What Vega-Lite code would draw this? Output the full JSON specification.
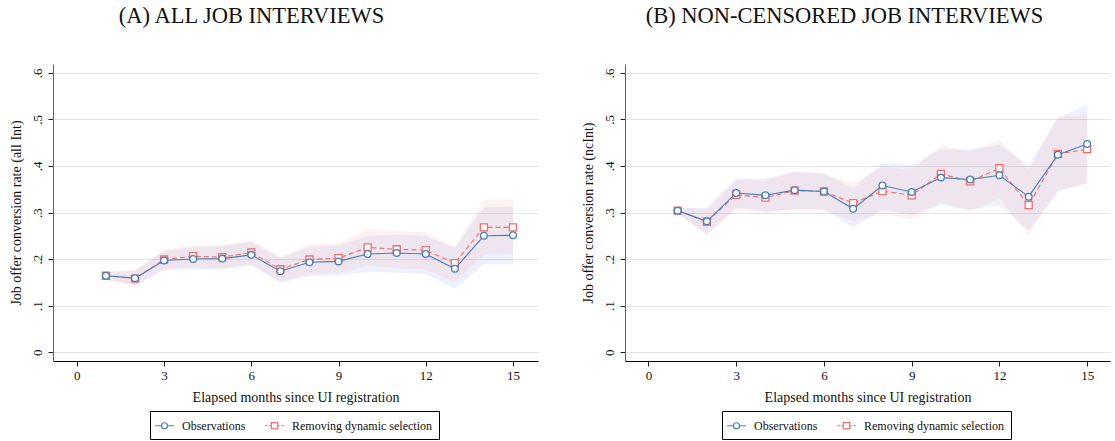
{
 "$schema": "https://vega.github.io/schema/vega-lite/v6.json",
 "background": "white",
 "padding": {"left": 8, "top": 4, "right": 5, "bottom": 0},
 "config": {
  "view": {"stroke": null},
  "font": "Liberation Serif",
  "axis": {"labelFont": "Liberation Serif", "titleFont": "Liberation Serif", "labelFontSize": 13, "titleFontSize": 14, "titleFontWeight": "normal", "labelColor": "#111", "titleColor": "#111", "tickColor": "#222", "domainColor": "#222", "tickSize": 5}
 },
 "datasets": {
  "a": [
   {"m":1,"s":"Observations","v":0.164,"lo":0.156,"hi":0.172},
   {"m":2,"s":"Observations","v":0.159,"lo":0.144,"hi":0.175},
   {"m":3,"s":"Observations","v":0.197,"lo":0.177,"hi":0.218},
   {"m":4,"s":"Observations","v":0.200,"lo":0.178,"hi":0.225},
   {"m":5,"s":"Observations","v":0.201,"lo":0.178,"hi":0.228},
   {"m":6,"s":"Observations","v":0.209,"lo":0.186,"hi":0.236},
   {"m":7,"s":"Observations","v":0.174,"lo":0.149,"hi":0.202},
   {"m":8,"s":"Observations","v":0.193,"lo":0.163,"hi":0.226},
   {"m":9,"s":"Observations","v":0.195,"lo":0.165,"hi":0.229},
   {"m":10,"s":"Observations","v":0.211,"lo":0.172,"hi":0.250},
   {"m":11,"s":"Observations","v":0.213,"lo":0.171,"hi":0.253},
   {"m":12,"s":"Observations","v":0.211,"lo":0.168,"hi":0.250},
   {"m":13,"s":"Observations","v":0.179,"lo":0.136,"hi":0.224},
   {"m":14,"s":"Observations","v":0.250,"lo":0.189,"hi":0.311},
   {"m":15,"s":"Observations","v":0.251,"lo":0.189,"hi":0.313},
   {"m":1,"s":"Removing dynamic selection","v":0.164,"lo":0.155,"hi":0.173},
   {"m":2,"s":"Removing dynamic selection","v":0.158,"lo":0.142,"hi":0.176},
   {"m":3,"s":"Removing dynamic selection","v":0.199,"lo":0.178,"hi":0.220},
   {"m":4,"s":"Removing dynamic selection","v":0.206,"lo":0.182,"hi":0.230},
   {"m":5,"s":"Removing dynamic selection","v":0.204,"lo":0.180,"hi":0.230},
   {"m":6,"s":"Removing dynamic selection","v":0.214,"lo":0.189,"hi":0.240},
   {"m":7,"s":"Removing dynamic selection","v":0.178,"lo":0.152,"hi":0.206},
   {"m":8,"s":"Removing dynamic selection","v":0.199,"lo":0.168,"hi":0.231},
   {"m":9,"s":"Removing dynamic selection","v":0.202,"lo":0.170,"hi":0.234},
   {"m":10,"s":"Removing dynamic selection","v":0.225,"lo":0.186,"hi":0.264},
   {"m":11,"s":"Removing dynamic selection","v":0.221,"lo":0.180,"hi":0.261},
   {"m":12,"s":"Removing dynamic selection","v":0.219,"lo":0.178,"hi":0.257},
   {"m":13,"s":"Removing dynamic selection","v":0.191,"lo":0.150,"hi":0.227},
   {"m":14,"s":"Removing dynamic selection","v":0.268,"lo":0.210,"hi":0.327},
   {"m":15,"s":"Removing dynamic selection","v":0.268,"lo":0.212,"hi":0.329}
  ],
  "b": [
   {"m":1,"s":"Observations","v":0.304,"lo":0.298,"hi":0.310},
   {"m":2,"s":"Observations","v":0.281,"lo":0.254,"hi":0.309},
   {"m":3,"s":"Observations","v":0.342,"lo":0.311,"hi":0.373},
   {"m":4,"s":"Observations","v":0.337,"lo":0.302,"hi":0.373},
   {"m":5,"s":"Observations","v":0.348,"lo":0.307,"hi":0.388},
   {"m":6,"s":"Observations","v":0.345,"lo":0.306,"hi":0.383},
   {"m":7,"s":"Observations","v":0.308,"lo":0.268,"hi":0.352},
   {"m":8,"s":"Observations","v":0.358,"lo":0.306,"hi":0.406},
   {"m":9,"s":"Observations","v":0.344,"lo":0.295,"hi":0.402},
   {"m":10,"s":"Observations","v":0.375,"lo":0.316,"hi":0.436},
   {"m":11,"s":"Observations","v":0.371,"lo":0.306,"hi":0.434},
   {"m":12,"s":"Observations","v":0.380,"lo":0.316,"hi":0.445},
   {"m":13,"s":"Observations","v":0.334,"lo":0.262,"hi":0.402},
   {"m":14,"s":"Observations","v":0.424,"lo":0.345,"hi":0.503},
   {"m":15,"s":"Observations","v":0.447,"lo":0.364,"hi":0.531},
   {"m":1,"s":"Removing dynamic selection","v":0.304,"lo":0.298,"hi":0.311},
   {"m":2,"s":"Removing dynamic selection","v":0.280,"lo":0.252,"hi":0.308},
   {"m":3,"s":"Removing dynamic selection","v":0.338,"lo":0.306,"hi":0.370},
   {"m":4,"s":"Removing dynamic selection","v":0.332,"lo":0.298,"hi":0.368},
   {"m":5,"s":"Removing dynamic selection","v":0.347,"lo":0.306,"hi":0.388},
   {"m":6,"s":"Removing dynamic selection","v":0.345,"lo":0.306,"hi":0.384},
   {"m":7,"s":"Removing dynamic selection","v":0.320,"lo":0.280,"hi":0.362},
   {"m":8,"s":"Removing dynamic selection","v":0.346,"lo":0.296,"hi":0.398},
   {"m":9,"s":"Removing dynamic selection","v":0.337,"lo":0.286,"hi":0.392},
   {"m":10,"s":"Removing dynamic selection","v":0.383,"lo":0.322,"hi":0.444},
   {"m":11,"s":"Removing dynamic selection","v":0.367,"lo":0.302,"hi":0.432},
   {"m":12,"s":"Removing dynamic selection","v":0.395,"lo":0.330,"hi":0.456},
   {"m":13,"s":"Removing dynamic selection","v":0.316,"lo":0.250,"hi":0.392},
   {"m":14,"s":"Removing dynamic selection","v":0.426,"lo":0.348,"hi":0.505},
   {"m":15,"s":"Removing dynamic selection","v":0.436,"lo":0.362,"hi":0.509}
  ]
 },
 "spacing": 42,
 "resolve": {"scale": {"x": "independent", "y": "independent", "color": "independent", "shape": "independent"}, "legend": {"color": "independent", "shape": "independent"}},
 "hconcat": [
  {
   "width": 485, "height": 297,
   "title": {"text": "(A) ALL JOB INTERVIEWS", "font": "Liberation Serif", "fontSize": 22.5, "fontWeight": "normal", "color": "#111", "anchor": "middle", "frame": "group", "offset": 37, "dx": -44},
   "data": {"name": "a"},
   "encoding": {
    "x": {"field": "m", "type": "quantitative", "scale": {"domain": [-0.82, 15.86], "nice": false, "zero": false}, "axis": {"values": [0,3,6,9,12,15], "grid": false, "title": "Elapsed months since UI registration", "labelPadding": 3, "titlePadding": 8, "domainColor": "#000"}}
   },
   "layer": [
    {"transform": [{"filter": "datum.s == 'Observations'"}], "mark": {"type": "area", "color": "#7b8fe0", "opacity": 0.13},
     "encoding": {"y": {"field": "lo", "type": "quantitative", "title": "Job offer conversion rate (all Int)", "scale": {"domain": [-0.019, 0.619], "nice": false, "zero": false}, "axis": {"values": [0,0.1,0.2,0.3,0.4,0.5,0.6], "labelExpr": "datum.value == 0 ? '0' : replace(format(datum.value, '.1f'), '0.', '.')", "labelAngle": -90, "labelPadding": 4, "titlePadding": 8, "grid": true, "gridColor": "#e3e3e3", "domainColor": "#666"}}, "y2": {"field": "hi"}}},
    {"transform": [{"filter": "datum.s == 'Removing dynamic selection'"}], "mark": {"type": "area", "color": "#f29a9a", "opacity": 0.13},
     "encoding": {"y": {"field": "lo", "type": "quantitative", "title": "Job offer conversion rate (all Int)"}, "y2": {"field": "hi"}}},
    {"transform": [{"filter": "datum.s == 'Removing dynamic selection'"}], "mark": {"type": "line", "color": "#f26d6d", "strokeWidth": 1.1, "strokeDash": [5, 3]},
     "encoding": {"y": {"field": "v", "type": "quantitative", "title": "Job offer conversion rate (all Int)"}}},
    {"transform": [{"filter": "datum.s == 'Removing dynamic selection'"}], "mark": {"type": "point", "shape": "square", "filled": false, "color": "#f26d6d", "size": 50, "strokeWidth": 1.3, "fill": "white", "fillOpacity": 1, "opacity": 1},
     "encoding": {"y": {"field": "v", "type": "quantitative", "title": "Job offer conversion rate (all Int)"}}},
    {"transform": [{"filter": "datum.s == 'Observations'"}], "mark": {"type": "line", "color": "#4a7ebb", "strokeWidth": 1.1},
     "encoding": {"y": {"field": "v", "type": "quantitative", "title": "Job offer conversion rate (all Int)"}}},
    {"transform": [{"filter": "datum.s == 'Observations'"}], "mark": {"type": "point", "shape": "circle", "filled": false, "color": "#4a7ebb", "size": 45, "strokeWidth": 1.3, "fill": "white", "fillOpacity": 1, "opacity": 1},
     "encoding": {"y": {"field": "v", "type": "quantitative", "title": "Job offer conversion rate (all Int)"}}},
    {"mark": {"type": "point", "filled": false, "opacity": 0, "size": 180},
     "encoding": {"y": {"field": "v", "type": "quantitative", "title": "Job offer conversion rate (all Int)"},
      "shape": {"field": "s", "type": "nominal", "scale": {"domain": ["Observations", "Removing dynamic selection"], "range": ["M-1.4,0H-0.45M0.45,0H1.4M0.45,0A0.45,0.45,0,1,1,-0.45,0A0.45,0.45,0,1,1,0.45,0", "M-1.4,0H-1.0M-0.8,0H-0.5M0.5,0H0.8M1.0,0H1.4M-0.48,-0.48H0.48V0.48H-0.48Z"]},
       "legend": {"title": null, "orient": "none", "legendX": 97, "legendY": 347, "direction": "horizontal", "strokeColor": "#000", "fillColor": "white", "padding": 7, "labelFont": "Liberation Serif", "labelFontSize": 12, "labelColor": "#111", "symbolSize": 180, "symbolStrokeWidth": 1.2, "symbolOpacity": 1, "columnPadding": 16, "labelOffset": 10}},
      "color": {"field": "s", "type": "nominal", "scale": {"domain": ["Observations", "Removing dynamic selection"], "range": ["#4a7ebb", "#f26d6d"]},
       "legend": {"title": null, "orient": "none", "legendX": 97, "legendY": 347, "direction": "horizontal", "strokeColor": "#000", "fillColor": "white", "padding": 7, "labelFont": "Liberation Serif", "labelFontSize": 12, "labelColor": "#111", "symbolSize": 180, "symbolStrokeWidth": 1.2, "symbolOpacity": 1, "columnPadding": 16, "labelOffset": 10}}}}
   ]
  },
  {
   "width": 485, "height": 297,
   "title": {"text": "(B) NON-CENSORED JOB INTERVIEWS", "font": "Liberation Serif", "fontSize": 22.5, "fontWeight": "normal", "color": "#111", "anchor": "middle", "frame": "group", "offset": 37, "dx": -23},
   "data": {"name": "b"},
   "encoding": {
    "x": {"field": "m", "type": "quantitative", "scale": {"domain": [-0.8, 15.78], "nice": false, "zero": false}, "axis": {"values": [0,3,6,9,12,15], "grid": false, "title": "Elapsed months since UI registration", "labelPadding": 3, "titlePadding": 8, "domainColor": "#000"}}
   },
   "layer": [
    {"transform": [{"filter": "datum.s == 'Observations'"}], "mark": {"type": "area", "color": "#7b8fe0", "opacity": 0.13},
     "encoding": {"y": {"field": "lo", "type": "quantitative", "title": "Job offer conversion rate (ncInt)", "scale": {"domain": [-0.019, 0.619], "nice": false, "zero": false}, "axis": {"values": [0,0.1,0.2,0.3,0.4,0.5,0.6], "labelExpr": "datum.value == 0 ? '0' : replace(format(datum.value, '.1f'), '0.', '.')", "labelAngle": -90, "labelPadding": 4, "titlePadding": 8, "grid": true, "gridColor": "#e3e3e3", "domainColor": "#666"}}, "y2": {"field": "hi"}}},
    {"transform": [{"filter": "datum.s == 'Removing dynamic selection'"}], "mark": {"type": "area", "color": "#f29a9a", "opacity": 0.13},
     "encoding": {"y": {"field": "lo", "type": "quantitative", "title": "Job offer conversion rate (ncInt)"}, "y2": {"field": "hi"}}},
    {"transform": [{"filter": "datum.s == 'Removing dynamic selection'"}], "mark": {"type": "line", "color": "#f26d6d", "strokeWidth": 1.1, "strokeDash": [5, 3]},
     "encoding": {"y": {"field": "v", "type": "quantitative", "title": "Job offer conversion rate (ncInt)"}}},
    {"transform": [{"filter": "datum.s == 'Removing dynamic selection'"}], "mark": {"type": "point", "shape": "square", "filled": false, "color": "#f26d6d", "size": 50, "strokeWidth": 1.3, "fill": "white", "fillOpacity": 1, "opacity": 1},
     "encoding": {"y": {"field": "v", "type": "quantitative", "title": "Job offer conversion rate (ncInt)"}}},
    {"transform": [{"filter": "datum.s == 'Observations'"}], "mark": {"type": "line", "color": "#4a7ebb", "strokeWidth": 1.1},
     "encoding": {"y": {"field": "v", "type": "quantitative", "title": "Job offer conversion rate (ncInt)"}}},
    {"transform": [{"filter": "datum.s == 'Observations'"}], "mark": {"type": "point", "shape": "circle", "filled": false, "color": "#4a7ebb", "size": 45, "strokeWidth": 1.3, "fill": "white", "fillOpacity": 1, "opacity": 1},
     "encoding": {"y": {"field": "v", "type": "quantitative", "title": "Job offer conversion rate (ncInt)"}}},
    {"mark": {"type": "point", "filled": false, "opacity": 0, "size": 180},
     "encoding": {"y": {"field": "v", "type": "quantitative", "title": "Job offer conversion rate (ncInt)"},
      "shape": {"field": "s", "type": "nominal", "scale": {"domain": ["Observations", "Removing dynamic selection"], "range": ["M-1.4,0H-0.45M0.45,0H1.4M0.45,0A0.45,0.45,0,1,1,-0.45,0A0.45,0.45,0,1,1,0.45,0", "M-1.4,0H-1.0M-0.8,0H-0.5M0.5,0H0.8M1.0,0H1.4M-0.48,-0.48H0.48V0.48H-0.48Z"]},
       "legend": {"title": null, "orient": "none", "legendX": 97, "legendY": 347, "direction": "horizontal", "strokeColor": "#000", "fillColor": "white", "padding": 7, "labelFont": "Liberation Serif", "labelFontSize": 12, "labelColor": "#111", "symbolSize": 180, "symbolStrokeWidth": 1.2, "symbolOpacity": 1, "columnPadding": 16, "labelOffset": 10}},
      "color": {"field": "s", "type": "nominal", "scale": {"domain": ["Observations", "Removing dynamic selection"], "range": ["#4a7ebb", "#f26d6d"]},
       "legend": {"title": null, "orient": "none", "legendX": 97, "legendY": 347, "direction": "horizontal", "strokeColor": "#000", "fillColor": "white", "padding": 7, "labelFont": "Liberation Serif", "labelFontSize": 12, "labelColor": "#111", "symbolSize": 180, "symbolStrokeWidth": 1.2, "symbolOpacity": 1, "columnPadding": 16, "labelOffset": 10}}}}
   ]
  }
 ]
}
